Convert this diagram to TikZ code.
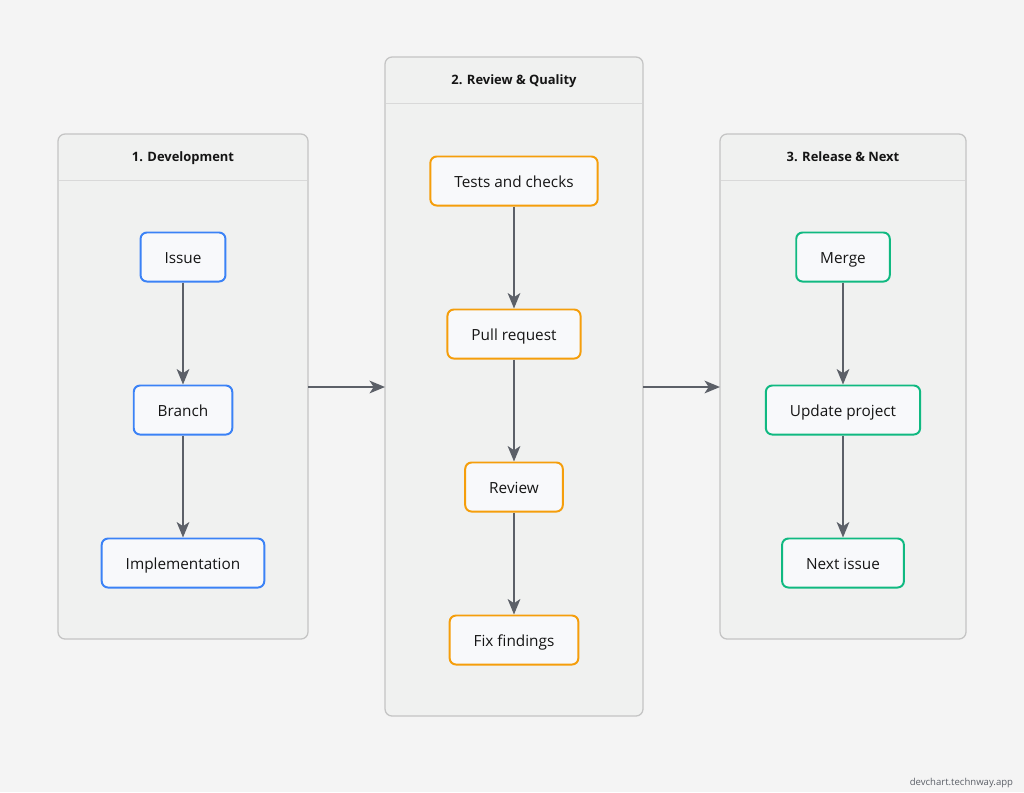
\documentclass[tikz,border=0pt]{standalone}
\usepackage{fontspec}
\setmainfont{Open Sans}
\usetikzlibrary{positioning, arrows.meta}

\definecolor{pagebg}{HTML}{F4F4F4}
\definecolor{lanefill}{HTML}{F0F1F0}
\definecolor{laneline}{HTML}{C4C4C4}
\definecolor{laneruler}{HTML}{D9D9D9}
\definecolor{stepfill}{HTML}{F8F9FB}
\definecolor{devblue}{HTML}{3B82F6}
\definecolor{qaorange}{HTML}{F59E0B}
\definecolor{relgreen}{HTML}{10B981}
\definecolor{flowgray}{HTML}{5C6068}
\definecolor{inktext}{HTML}{151515}

\begin{document}
\begin{tikzpicture}[
                x=0.025cm, y=-0.025cm,
                >={Stealth[length=11pt, width=9pt, inset=3pt]},
                lane/.style={draw=laneline, fill=lanefill, line width=0.9pt, rounded corners=5pt},
                lanetitle/.style={font=\fontsize{9.2}{11}\selectfont\bfseries, text=inktext, text height=1.6ex, text depth=0.4ex},
                stepbox/.style={draw, rectangle, rounded corners=4.5pt, align=center, fill=stepfill, line width=1.4pt, minimum height=1.225cm, inner xsep=0.6cm, text height=1.9ex, text depth=0.2ex, font=\fontsize{10.9}{12}\selectfont, text=inktext},
                devstep/.style={stepbox, draw=devblue},
                qastep/.style={stepbox, draw=qaorange},
                relstep/.style={stepbox, draw=relgreen},
                flow/.style={->, draw=flowgray, line width=1.5pt}
            ]
            \useasboundingbox[fill=pagebg] (0,0) rectangle (1024,792);

            % Lanes
            \draw[lane] (58,134) rectangle (308,639);
            \draw[lane] (385,57) rectangle (643,716);
            \draw[lane] (720,134) rectangle (966,639);
            \draw[laneruler, line width=0.7pt] (59,180) -- (307,180);
            \draw[laneruler, line width=0.7pt] (386,103) -- (642,103);
            \draw[laneruler, line width=0.7pt] (721,180) -- (965,180);
            \coordinate (devE) at (308,387);
            \coordinate (qaW) at (385,387);
            \coordinate (qaE) at (643,387);
            \coordinate (relW) at (720,387);

            \node[lanetitle] (devtitle) at (183,157) {1. Development};
            \node[lanetitle] (qatitle) at (514,80) {2. Review \& Quality};
            \node[lanetitle] (reltitle) at (843,157) {3. Release \& Next};

            % Nodes
            \node[devstep] (issue) at (183,257) {Issue};
            \node[devstep] (branch) at (183,410) {Branch};
            \node[devstep] (impl) at (183,563) {Implementation};

            \node[qastep] (tests) at (514,181) {Tests and checks};
            \node[qastep] (pr) at (514,334) {Pull request};
            \node[qastep] (review) at (514,487) {Review};
            \node[qastep] (fix) at (514,640) {Fix findings};

            \node[relstep] (merge) at (843,257) {Merge};
            \node[relstep] (update) at (843,410) {Update project};
            \node[relstep] (nextissue) at (843,563) {Next issue};

            \node[font=\fontsize{6.8}{8}\selectfont, text=flowgray, anchor=east] (stamp) at (1018,783) {devchart.technway.app};

            % Edges
            \draw[flow] (issue) -- (branch);
            \draw[flow] (branch) -- (impl);
            \draw[flow] (tests) -- (pr);
            \draw[flow] (pr) -- (review);
            \draw[flow] (review) -- (fix);
            \draw[flow] (merge) -- (update);
            \draw[flow] (update) -- (nextissue);
            \draw[flow] (devE) -- (qaW);
            \draw[flow] (qaE) -- (relW);
            \end{tikzpicture}
\end{document}
